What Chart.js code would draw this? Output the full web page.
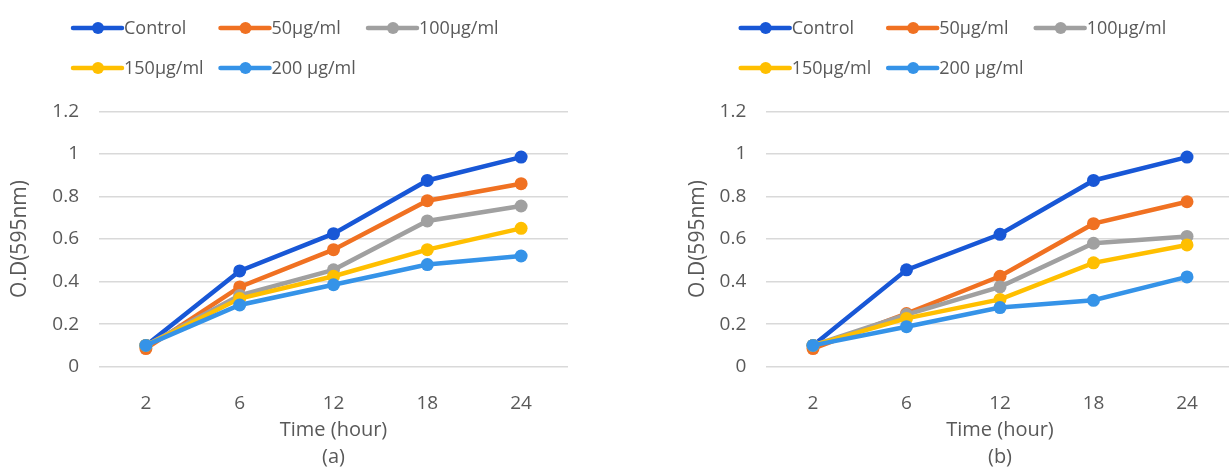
<!DOCTYPE html>
<html>
<head>
<meta charset="utf-8">
<script src="https://cdn.jsdelivr.net/npm/chart.js@4/dist/chart.umd.min.js"></script>
<style>
    html, body { margin: 0; padding: 0; background: #fff; overflow: hidden; width: 1229px; height: 471px; }
    .box { position: absolute; top: 0; height: 471px; }
    #boxA { left: 0; width: 614px; }
    #boxB { left: 614px; width: 640px; }
</style>
</head>
<body>
<div class="box" id="boxA"><canvas id="chartA"></canvas></div>
<div class="box" id="boxB"><canvas id="chartB"></canvas></div>
<script>
// data
var hours = ['2', '6', '12', '18', '24'];
var seriesNames = ['Control', '50µg/ml', '100µg/ml', '150µg/ml', '200 µg/ml'];
var seriesColors = ['#1857d6', '#f07122', '#a0a0a0', '#ffbf00', '#3593e8'];
var yMin = 0, yMax = 1.2, yStep = 0.2;

// (a)
var controlA = [0.10, 0.45, 0.625, 0.875, 0.985];
var d50A     = [0.085, 0.375, 0.55, 0.78, 0.86];
var d100A    = [0.10, 0.335, 0.455, 0.685, 0.755];
var d150A    = [0.10, 0.32, 0.425, 0.55, 0.65];
var d200A    = [0.10, 0.29, 0.385, 0.48, 0.52];

// (b)
var controlB = [0.10, 0.455, 0.622, 0.875, 0.985];
var d50B     = [0.085, 0.25, 0.425, 0.672, 0.775];
var d100B    = [0.10, 0.245, 0.375, 0.58, 0.612];
var d150B    = [0.10, 0.227, 0.316, 0.488, 0.572];
var d200B    = [0.10, 0.188, 0.278, 0.312, 0.422];

var FONT = "'Open Sans', 'DejaVu Sans', sans-serif";
var TEXT = '#595959';

//legend drawn like the excel one: fixed columns, line + dot
var rowLegend = {
    id: 'rowLegend',
    afterDraw: function (chart) {
        var o = chart.options.plugins.rowLegend;
        var ctx = chart.ctx;
        ctx.save();
        chart.data.datasets.forEach(function (ds, i) {
            var col = i < 3 ? i : i - 3;
            var row = i < 3 ? 0 : 1;
            var x = o.x + col * o.colWidth;
            var y = o.y + row * o.rowGap;
            ctx.strokeStyle = ds.borderColor;
            ctx.lineWidth = 4.5;
            ctx.lineCap = 'round';
            ctx.beginPath();
            ctx.moveTo(x, y);
            ctx.lineTo(x + 49, y);
            ctx.stroke();
            ctx.fillStyle = ds.borderColor;
            ctx.beginPath();
            ctx.arc(x + 25, y, 6, 0, Math.PI * 2);
            ctx.fill();
            ctx.fillStyle = TEXT;
            ctx.font = '18px ' + FONT;
            ctx.textBaseline = 'middle';
            ctx.textAlign = 'left';
            ctx.fillText(ds.label, x + 51, y + 1);
        });
        ctx.restore();
    }
};

function makeDatasets(list) {
    return list.map(function (vals, i) {
        return {
            label: seriesNames[i],
            data: vals,
            borderColor: seriesColors[i],
            backgroundColor: seriesColors[i],
            pointBackgroundColor: seriesColors[i],
            pointBorderColor: seriesColors[i],
            borderWidth: 4.5,
            pointRadius: 6.5,
            pointBorderWidth: 0,
            tension: 0,
            order: list.length - i
        };
    });
}

function makeChart(id, list, caption, cfg) {
    var ctx = document.getElementById(id).getContext('2d');
    return new Chart(ctx, {
        type: 'line',
        data: {
            labels: hours,
            datasets: makeDatasets(list)
        },
        plugins: [rowLegend],
        options: {
            responsive: true,
            maintainAspectRatio: false,
            animation: false,
            devicePixelRatio: 1,
            layout: { padding: { left: 0, right: cfg.padRight, top: 111.3, bottom: 0 } },
            plugins: {
                legend: { display: false },
                tooltip: { enabled: false },
                rowLegend: { x: cfg.legendX, y: 28, colWidth: 147.5, rowGap: 40 }
            },
            scales: {
                x: {
                    offset: true,
                    grid: { display: false },
                    border: { display: false },
                    ticks: { color: TEXT, font: { family: FONT, size: 19 }, padding: 17 },
                    title: {
                        display: true,
                        text: ['Time (hour)', caption],
                        color: TEXT,
                        font: { family: FONT, size: 20, lineHeight: 1.35 },
                        padding: { top: 0, bottom: 0 }
                    },
                    afterFit: function (s) { s.height = 104.3; }
                },
                y: {
                    min: yMin,
                    max: yMax,
                    grid: { color: '#d9d9d9', lineWidth: 1.5, drawTicks: false },
                    border: { display: false },
                    ticks: {
                        stepSize: yStep,
                        color: TEXT,
                        padding: 20,
                        font: { family: FONT, size: 19 },
                        callback: function (v) { return String(+Number(v).toFixed(1)); }
                    },
                    title: {
                        display: true,
                        text: 'O.D(595nm)',
                        color: TEXT,
                        font: { family: FONT, size: 21 },
                        padding: { top: cfg.titlePad, bottom: 0 }
                    },
                    afterFit: function (s) { s.width = cfg.yWidth; }
                }
            }
        }
    });
}

makeChart('chartA', [controlA, d50A, d100A, d150A, d200A], '(a)',
    { padRight: 46, yWidth: 99, titlePad: 7, legendX: 73 });
makeChart('chartB', [controlB, d50B, d100B, d150B, d200B], '(b)',
    { padRight: 20.25, yWidth: 152.25, titlePad: 71.4, legendX: 126.7 });
</script>
</body>
</html>
